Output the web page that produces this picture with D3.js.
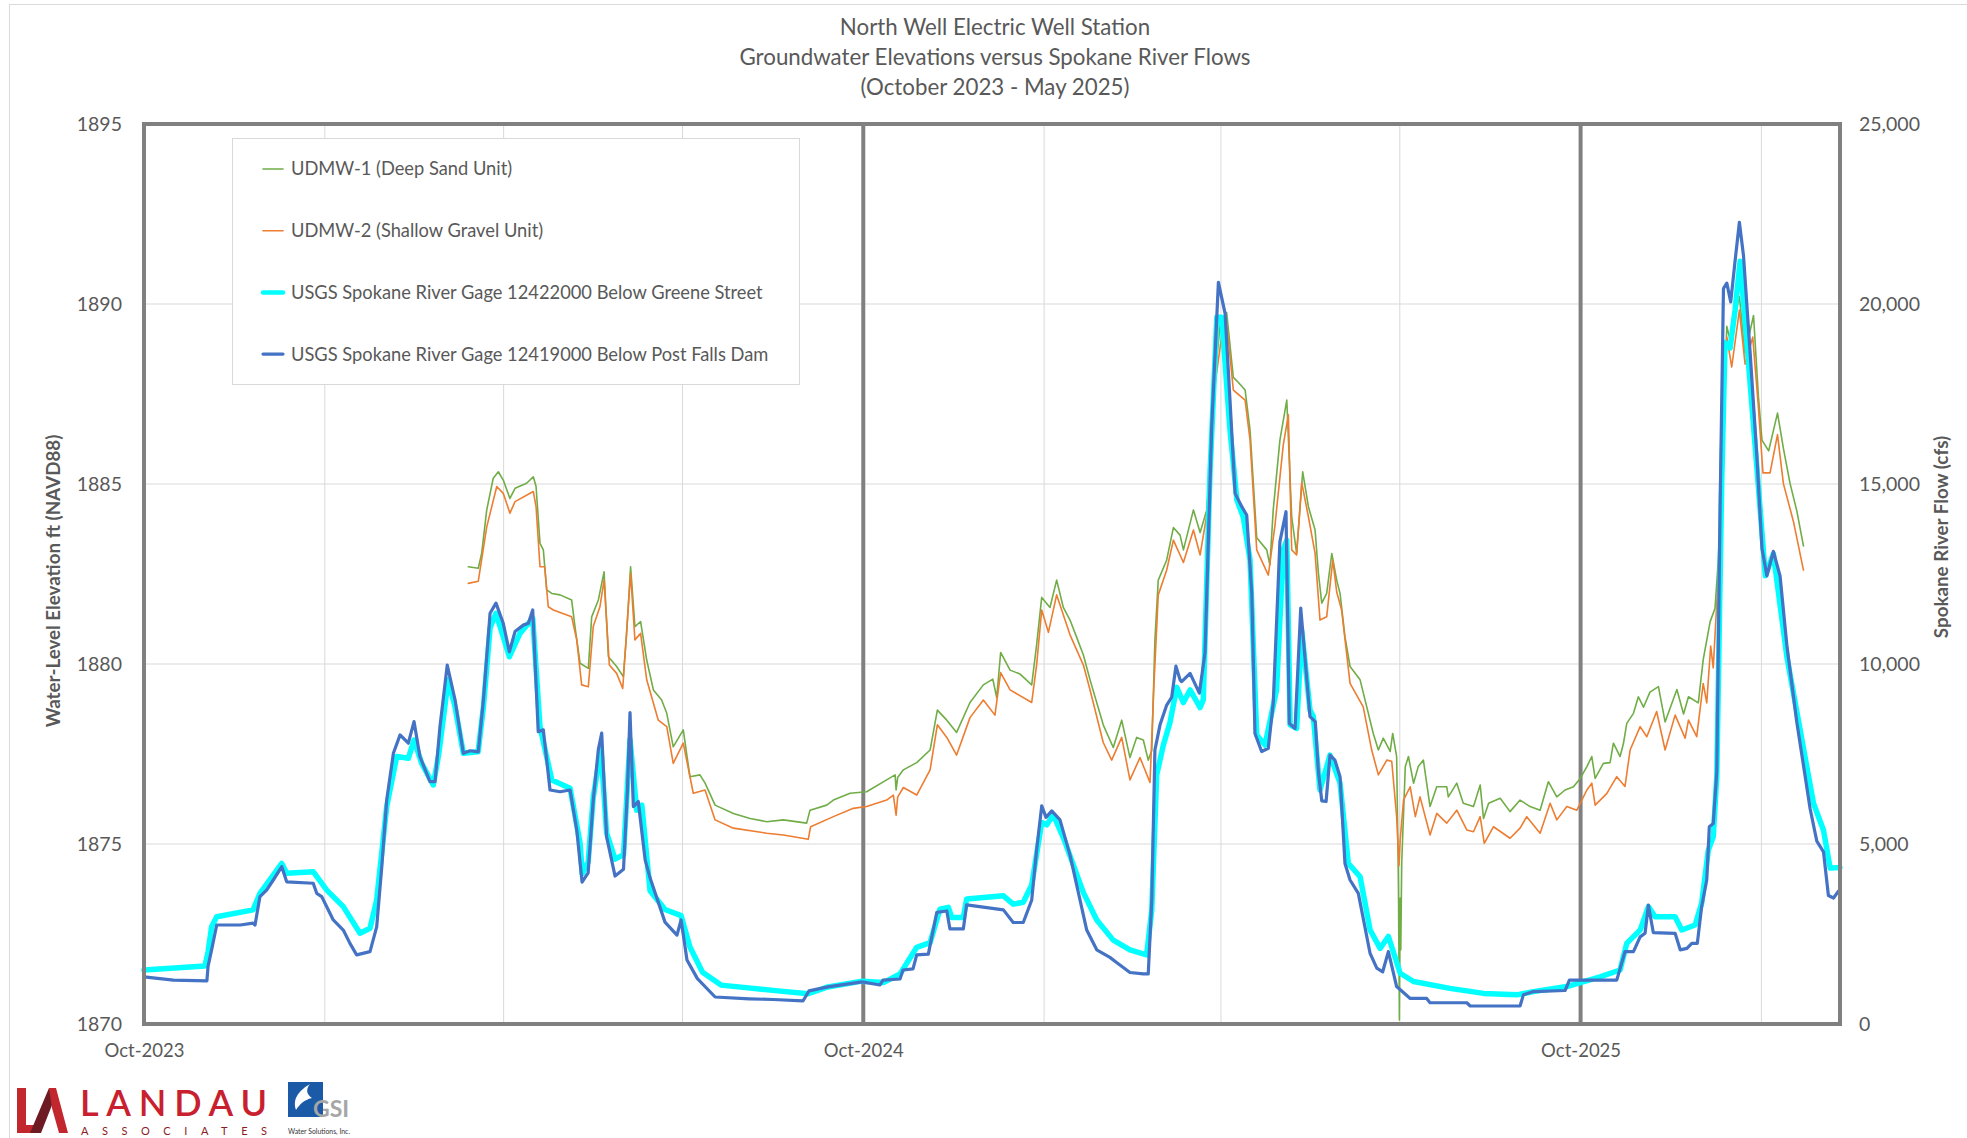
<!DOCTYPE html>
<html>
<head>
<meta charset="utf-8">
<script src="https://cdn.jsdelivr.net/npm/d3@7"></script>
<style>
  html, body { margin: 0; padding: 0; background: #fff; }
  svg text { font-family: Lato, "Open Sans", sans-serif; fill: #595959; }
</style>
</head>
<body>
<div id="chart"></div>
<script>
'use strict';

// [days after 1 Oct 2023, value]
const udmw1 = [[165,1882.70],[170.1,1882.66],[171.8,1883.07],[174.4,1884.28],[177.7,1885.16],[180.3,1885.34],[182.8,1885.11],[186.2,1884.60],[188.8,1884.88],[194.7,1885.02],[198.1,1885.20],[199.5,1884.93],[201.5,1883.35],[203.2,1883.17],[204.9,1882.06],[207.5,1881.96],[211.7,1881.92],[217.6,1881.78],[219.3,1881.04],[221.9,1880.02],[226.1,1879.88],[227.8,1881.31],[231.2,1881.78],[234.1,1882.56],[236.3,1880.20],[240.5,1879.93],[243.9,1879.65],[245.6,1880.85],[247.6,1882.70],[249.8,1881.04],[252.7,1881.18],[255.8,1880.11],[259.2,1879.28],[263.4,1879.00],[266,1878.63],[269.3,1877.70],[274.4,1878.17],[277.8,1876.87],[282.9,1876.92],[285.5,1876.69],[290.6,1876.08],[299.9,1875.85],[308.4,1875.71],[316.9,1875.62],[325.3,1875.67],[337.2,1875.58],[338.9,1875.94],[347.4,1876.08],[350.8,1876.22],[359.3,1876.41],[367.7,1876.45],[377.9,1876.78],[382.2,1876.92],[382.7,1876.50],[383.5,1876.85],[386.4,1877.06],[393.2,1877.26],[400,1877.61],[403.7,1878.72],[408.5,1878.44],[413.5,1878.10],[420.3,1878.93],[427.1,1879.42],[431.9,1879.58],[433.9,1879.07],[435.9,1880.32],[440.7,1879.83],[445.8,1879.72],[451.7,1879.42],[454.2,1880.53],[456.8,1881.85],[461,1881.57],[464.4,1882.33],[467.8,1881.57],[471.2,1881.22],[474.6,1880.74],[478,1880.25],[481.4,1879.56],[488.1,1878.31],[493.2,1877.68],[497.5,1878.44],[501.7,1877.40],[505.1,1877.96],[508.5,1877.89],[511,1877.33],[512.8,1877.60],[514.4,1880.67],[516.1,1882.33],[520.4,1882.89],[523.8,1883.79],[527.2,1883.58],[528.9,1883.17],[534,1884.28],[537.4,1883.65],[540.8,1884.28],[542.4,1885.67],[545,1888.03],[547.6,1889.42],[550.9,1889.76],[554.3,1887.96],[556.9,1887.82],[560.3,1887.61],[562.8,1886.50],[566.2,1883.51],[571.3,1883.17],[572.9,1882.75],[574.6,1884.28],[578,1886.22],[581.5,1887.33],[584,1884.09],[586.5,1883.07],[589.6,1885.34],[592.5,1884.37],[595.9,1883.72],[597.6,1882.52],[599.3,1881.69],[601.8,1881.96],[604.4,1883.07],[606.9,1882.33],[608.6,1881.96],[611.1,1880.76],[613.7,1879.93],[618.8,1879.56],[622.2,1878.81],[625.5,1878.07],[628.1,1877.61],[630.6,1877.94],[634.1,1877.57],[635.4,1878.07],[637.4,1877.43],[638.3,1873.91],[638.8,1870.11],[639.2,1873.5],[639.5,1872.06],[640,1874.5],[641.8,1877.15],[643.4,1877.43],[646,1876.69],[648.4,1877.15],[651,1877.33],[654.4,1876.04],[657.8,1876.59],[662.9,1876.59],[663.7,1876.31],[668,1876.69],[671.3,1876.13],[676.5,1876.04],[679.9,1876.64],[681.6,1875.71],[684.2,1876.13],[690.1,1876.27],[695.1,1875.90],[700.2,1876.22],[705.3,1876.04],[710.4,1875.94],[714.6,1876.73],[718.9,1876.31],[723.1,1876.50],[727.4,1876.59],[730.8,1876.82],[734.2,1877.15],[736.7,1877.43],[738.4,1876.82],[742.6,1877.24],[746,1877.26],[747.7,1877.80],[751.1,1877.43],[752.8,1877.79],[754.5,1878.35],[757.9,1878.63],[760.4,1879.09],[763,1878.80],[766.3,1879.22],[770.6,1879.37],[774,1878.39],[780,1879.29],[783.4,1878.61],[785.9,1879.09],[790.9,1878.92],[793.4,1880.12],[796.9,1881.17],[799.4,1881.55],[801.1,1882.91],[803.7,1886.5],[805.4,1889.38],[807.4,1888.93],[809.6,1889.68],[811.8,1890.21],[814.7,1888.63],[819,1889.68],[821.5,1887.42],[823.3,1886.22],[826.7,1885.92],[831.2,1886.97],[834.2,1885.99],[837.6,1885.01],[841,1884.26],[844.4,1883.28]];

const udmw2 = [[165,1882.24],[170.1,1882.30],[174.4,1883.81],[179.5,1884.93],[182.8,1884.74],[186.2,1884.19],[188.8,1884.51],[198.1,1884.79],[199.5,1884.37],[201.5,1882.70],[203.9,1882.70],[205.7,1881.59],[208.3,1881.50],[217.6,1881.31],[220.2,1880.67],[222.7,1879.42],[226.1,1879.37],[228.6,1881.04],[232,1881.59],[234.1,1882.33],[236.8,1879.97],[240.5,1879.74],[243.6,1879.32],[247.6,1882.52],[249.8,1880.67],[252.7,1880.85],[255.8,1879.56],[261.7,1878.44],[266,1878.26],[269.3,1877.24],[274.4,1877.80],[279.5,1876.41],[285.5,1876.50],[290.6,1875.67],[299.9,1875.44],[316.9,1875.30],[325.3,1875.25],[338,1875.13],[339.2,1875.48],[350.8,1875.76],[360.9,1875.99],[367.7,1876.04],[377.9,1876.22],[381.3,1876.36],[382.7,1875.80],[383.5,1876.30],[386.4,1876.57],[393.2,1876.36],[400,1877.06],[403.7,1878.31],[408.5,1877.96],[413.5,1877.47],[420.3,1878.51],[427.1,1879.00],[433,1878.58],[435.9,1879.76],[440.7,1879.28],[451.7,1878.93],[454.2,1879.97],[456.8,1881.50],[460.2,1880.88],[464.4,1881.92],[471.2,1880.81],[478,1879.97],[481.4,1879.28],[488.1,1877.82],[492.4,1877.33],[497.5,1877.96],[501.7,1876.78],[506.8,1877.40],[511.9,1876.71],[513.9,1879.42],[516.1,1881.92],[520.4,1882.61],[523.8,1883.44],[528.9,1882.82],[534,1883.72],[537.4,1883.03],[540.8,1884.14],[545,1887.75],[548.4,1889.14],[550.9,1889.49],[554.3,1887.61],[560.3,1887.33],[562.8,1886.22],[566.2,1883.17],[572.1,1882.47],[575.5,1883.86],[579.7,1886.08],[582.3,1886.92],[584,1883.17],[586.5,1883.03],[589.1,1885.04],[592.5,1884.09],[595.9,1883.07],[598.4,1881.22],[601.8,1881.31],[604.9,1882.89],[606.9,1882.00],[609.4,1881.50],[613.7,1879.46],[620.4,1878.81],[624.7,1877.61],[628.1,1876.92],[632.4,1877.33],[634.9,1877.30],[637.4,1875.76],[638.6,1874.40],[639.2,1875.11],[640.9,1876.22],[644.3,1876.59],[646.9,1875.76],[649.3,1876.31],[654.4,1875.25],[657.8,1875.85],[662.9,1875.58],[668,1875.94],[673.1,1875.39],[676.5,1875.34],[679.9,1875.76],[682,1875.02],[686.7,1875.48],[695.1,1875.16],[700.2,1875.44],[703.6,1875.76],[710.4,1875.30],[715.5,1876.13],[718.9,1875.67],[724,1876.04],[729.1,1875.94],[734.2,1876.50],[736.7,1876.69],[738.4,1876.08],[744.3,1876.40],[749.4,1876.87],[753.6,1876.60],[756.2,1877.61],[761.3,1878.26],[764.7,1877.98],[769.7,1878.68],[774,1877.61],[779.1,1878.58],[784.2,1877.94],[785.9,1878.44],[790.1,1877.98],[793.4,1879.46],[795.2,1878.92],[797.2,1880.50],[798.5,1879.89],[801.1,1882.5],[803.7,1886.5],[805.4,1889.08],[807.9,1888.25],[811.8,1889.83],[814.7,1888.33],[818.6,1889.08],[821.5,1887.12],[823.8,1885.31],[827.4,1885.31],[831.2,1886.37],[834.2,1885.01],[839.3,1883.96],[844.4,1882.61]];

// cfs
const greeneStreet = [[0,1500],[31,1610],[32.6,2000],[34.4,2700],[37,2980],[55.5,3170],[59,3630],[70.1,4460],[72.6,4190],[86.1,4230],[93,3720],[101.4,3260],[109.9,2520],[115,2660],[118.4,3440],[123.5,6040],[128.6,7430],[134.5,7380],[137.4,7890],[141.3,7240],[147.2,6640],[150,7500],[154.8,9560],[158.3,8800],[162.5,7520],[170,7560],[172.7,8800],[176.1,11000],[179.1,11410],[185.9,10200],[191.3,10850],[197.8,11270],[201.5,8260],[207.5,6780],[216.8,6550],[221.9,5020],[223,4170],[226,4500],[228.6,6300],[232.5,7640],[235.4,5300],[239.7,4580],[244,4700],[247.3,7900],[250.7,5940],[253.3,6080],[257.5,3700],[265.1,3180],[273.3,3010],[277.8,2140],[284.2,1440],[293.6,1080],[322.6,920],[338,840],[348,1030],[365.4,1190],[376.2,1150],[384.7,1390],[393.2,2130],[400,2260],[405,3190],[409.3,3240],[411,2960],[416.9,2960],[418.6,3470],[437.3,3560],[442.3,3330],[447.4,3380],[451.7,3860],[456.8,5600],[459.3,5530],[462.7,5810],[467.8,5180],[478,3650],[484.8,2890],[493.2,2330],[501.7,2060],[510.2,1920],[512.8,3170],[515.3,6920],[518.7,7750],[522.1,8380],[525.5,9350],[528.9,8930],[532.3,9280],[537.4,8790],[539,9000],[542.4,15250],[545.9,19630],[548.4,19630],[552.6,16500],[556.1,14560],[559.4,14070],[562.8,12890],[566.2,8030],[570.4,7750],[576.3,9280],[579.7,13170],[581.5,13440],[583.2,8310],[586.5,8210],[589.1,10940],[593.3,8720],[595,8540],[598.4,6500],[603.5,7470],[608.6,6690],[612.8,4460],[618.8,4090],[623.9,2610],[629,2100],[633.2,2430],[639.2,1410],[646,1180],[664.5,990],[681.6,850],[698.5,810],[707,900],[724,1040],[740.9,1310],[751.1,1500],[754.5,2240],[761.3,2610],[765.5,3260],[768.9,2980],[779.1,2980],[782.5,2610],[789.3,2750],[792.6,3350],[796,4830],[798.5,5200],[800.3,6880],[802.8,15010],[804.5,18930],[807.1,18780],[809.6,19830],[812.2,21190],[815.6,18930],[820.7,15460],[825,12450],[829.1,13060],[836,10190],[849.5,6130],[854.6,5380],[858,4330],[863,4350]];

const postFalls = [[0,1310],[15,1220],[32,1200],[32.6,1600],[34.4,2060],[37,2750],[49,2750],[55.5,2800],[56.5,2750],[59,3540],[62.4,3720],[65.8,4000],[70.1,4370],[72.6,3950],[86.1,3910],[87.9,3630],[90.4,3540],[96.3,2890],[101.4,2610],[104.8,2240],[108.2,1920],[115,2010],[118.4,2700],[121,4370],[123.5,6220],[126.9,7520],[130.3,8030],[134.5,7800],[137.4,8400],[140.4,7430],[145.5,6730],[148.1,6730],[150.6,8260],[154.3,9970],[158.3,9000],[162.5,7520],[165.9,7590],[170.1,7560],[172.7,9000],[176.1,11410],[179.1,11690],[182.8,11130],[185.9,10340],[188.8,10900],[193,11080],[195.6,11130],[197.8,11500],[200.6,8120],[203.2,8170],[206.6,6500],[211.7,6450],[216.8,6500],[220.2,5390],[222.9,3940],[226,4200],[228.6,6220],[231.2,7630],[232.9,8080],[235.4,5200],[239.7,4110],[244,4300],[246,6500],[247.3,8650],[249,6040],[251.5,6180],[255,4560],[257.5,4060],[265.1,2830],[271.2,2470],[273.3,2890],[276.3,1780],[281.6,1260],[290.6,750],[308,700],[320,680],[335.3,640],[338.4,920],[348,1030],[365.4,1170],[374.5,1083],[376,1220],[384.7,1250],[386.2,1500],[391.3,1530],[393.2,1920],[399.1,1940],[403.4,3100],[408.5,3140],[410.1,2640],[416.9,2640],[418.6,3310],[437.3,3170],[442.3,2820],[447.4,2820],[451.7,3440],[454.2,4830],[456.8,6060],[459,5740],[461.9,5920],[466.1,5670],[471.2,4690],[479.7,2610],[484.8,2060],[491.5,1850],[494.9,1710],[501.7,1430],[508.5,1390],[511,1390],[512.8,3440],[514.4,7610],[517,8310],[520.4,8860],[522.9,9070],[525.1,9940],[527.2,9560],[528,9510],[532.3,9740],[537,9190],[539.9,10310],[543.3,16600],[546.7,20600],[550.1,19740],[552.6,17330],[555.2,14740],[558.6,14370],[561.1,14140],[563.7,11960],[565.3,8070],[568.7,7570],[572.1,7660],[574.6,8910],[578,13400],[581.1,14230],[582.8,8350],[585.7,8210],[588.6,11550],[593.3,8540],[596,8400],[597.6,7000],[599.3,6200],[601.5,6180],[603.5,7470],[606,7330],[608.6,6870],[611.1,4460],[613.7,4000],[617.9,3630],[623.9,1960],[627.3,1550],[630.3,1450],[633.2,2010],[637.4,1040],[644.3,710],[652.7,710],[654.4,590],[673.1,590],[674.8,500],[700.2,500],[701.9,810],[707,900],[723.1,930],[725.3,1220],[749.4,1220],[753.6,2010],[757.9,2010],[761.3,2420],[763.8,2520],[765.5,3300],[768,2540],[779.1,2520],[781.7,2060],[785.1,2100],[787.6,2240],[790.4,2240],[792.6,3260],[795.2,4000],[796.5,5480],[798.5,5570],[800.3,7000],[802,14410],[803.7,20430],[805.4,20580],[807.4,20060],[809.6,21190],[811.8,22270],[813.9,21340],[817.3,18630],[820.7,15770],[823.3,13210],[825.8,12450],[829.1,13130],[832.5,12450],[836,10500],[841,8390],[847.8,5980],[851.2,5080],[854.6,4780],[857.1,3570],[859.7,3500],[862.2,3690],[863,3690]];

const seriesNames = ['UDMW-1 (Deep Sand Unit)', 'UDMW-2 (Shallow Gravel Unit)',
  'USGS Spokane River Gage 12422000 Below Greene Street', 'USGS Spokane River Gage 12419000 Below Post Falls Dam'];
const elevTicks = [1870, 1875, 1880, 1885, 1890, 1895];
const flowTicks = [0, 5000, 10000, 15000, 20000, 25000];
const xTickLabels = ['Oct-2023', 'Oct-2024', 'Oct-2025'];
const titleLines = ['North Well Electric Well Station', 'Groundwater Elevations versus Spokane River Flows', '(October 2023 - May 2025)'];

var W = 1967, H = 1138,
    padl = 144, padr = 1840, padt = 124, padb = 1024,
    start = new Date(2023, 9, 1),
    toDate = (d) => new Date(start.getTime() + d * 864e5),
    x = d3.scaleTime().domain([start, toDate(863)]).range([padl, padr]),
    yL = d3.scaleLinear().domain([1870, 1895]).range([padb, padt]),
    yR = d3.scaleLinear().domain([0, 25000]).range([padb, padt]),
    parseTick = d3.timeParse('%b-%Y'),
    xTicks = xTickLabels.map(parseTick);

var svg = d3.select('#chart').append('svg')
    .attr('width', W)
    .attr('height', H);

svg.append('rect').attr('width', W).attr('height', H).attr('fill', '#fff');
// chart area outline
svg.append('rect')
  .attr('x', 9.5).attr('y', 4.5).attr('width', W).attr('height', H)
  .attr('fill', 'none').attr('stroke', '#d9d9d9');

// title
svg.append('g').selectAll('text')
  .data(titleLines)
  .enter().append('text')
  .attr('x', 995)
  .attr('y', (d, i) => 35 + i * 30)
  .attr('text-anchor', 'middle')
  .style('font-size', '22.3px')
  .text((d) => d);

// gridlines
svg.append('g').selectAll('line')
  .data(elevTicks.slice(1, -1))
  .enter().append('line')
  .attr('x1', padl).attr('x2', padr)
  .attr('y1', (d) => yL(d)).attr('y2', (d) => yL(d))
  .attr('stroke', '#d9d9d9');

svg.append('g').selectAll('line')
  .data(x.ticks(d3.timeMonth.every(3)))
  .enter().append('line')
  .attr('x1', (d) => x(d)).attr('x2', (d) => x(d))
  .attr('y1', padt).attr('y2', padb)
  .attr('stroke', '#d9d9d9');

// year separators
svg.append('g').selectAll('line')
  .data(xTicks.slice(1))
  .enter().append('line')
  .attr('x1', (d) => x(d)).attr('x2', (d) => x(d))
  .attr('y1', padt).attr('y2', padb)
  .attr('stroke', '#808080').attr('stroke-width', 4);

// series
var lineL = d3.line().x((d) => x(toDate(d[0]))).y((d) => yL(d[1])),
    lineR = d3.line().x((d) => x(toDate(d[0]))).y((d) => yR(d[1]));

var series = [
  { data: udmw1, line: lineL, color: '#70ad47', width: 1.6 },
  { data: udmw2, line: lineL, color: '#ed7d31', width: 1.6 },
  { data: greeneStreet, line: lineR, color: '#00ffff', width: 5.5 },
  { data: postFalls, line: lineR, color: '#4472c4', width: 3.2 }
];

svg.append('g').selectAll('path')
  .data(series)
  .enter().append('path')
  .attr('d', (s) => s.line(s.data))
  .attr('fill', 'none')
  .attr('stroke', (s) => s.color)
  .attr('stroke-width', (s) => s.width)
  .attr('stroke-linejoin', 'round')
  .attr('stroke-linecap', 'round');

// plot border
svg.append('rect')
  .attr('x', padl).attr('y', padt)
  .attr('width', padr - padl).attr('height', padb - padt)
  .attr('fill', 'none').attr('stroke', '#808080').attr('stroke-width', 4);

// axes
var axL = svg.append('g')
  .attr('transform', 'translate(' + padl + ',0)')
  .call(d3.axisLeft(yL).tickValues(elevTicks).tickSize(0).tickPadding(22).tickFormat(d3.format('d')));
var axR = svg.append('g')
  .attr('transform', 'translate(' + padr + ',0)')
  .call(d3.axisRight(yR).tickValues(flowTicks).tickSize(0).tickPadding(19).tickFormat(d3.format(',')));
var axB = svg.append('g')
  .attr('transform', 'translate(0,' + padb + ')')
  .call(d3.axisBottom(x).tickValues(xTicks).tickSize(0).tickPadding(20).tickFormat(d3.timeFormat('%b-%Y')));

[axL, axR].forEach((g) => {
  g.select('.domain').remove();
  g.selectAll('text').style('font-size', '19.5px');
});
axB.select('.domain').remove();
axB.selectAll('text').style('font-size', '18.5px');

// axis titles
svg.append('text')
  .attr('transform', 'translate(60,581) rotate(-90)')
  .attr('text-anchor', 'middle')
  .style('font-size', '18.8px').style('font-weight', 'bold')
  .text('Water-Level Elevation ft (NAVD88)');

svg.append('text')
  .attr('transform', 'translate(1948,537) rotate(-90)')
  .attr('text-anchor', 'middle')
  .style('font-size', '18.8px').style('font-weight', 'bold')
  .text('Spokane River Flow (cfs)');

// legend
var legend = svg.append('g');
legend.append('rect')
  .attr('x', 232.5).attr('y', 138.5).attr('width', 567).attr('height', 246)
  .attr('fill', '#fff').attr('stroke', '#d9d9d9');

var items = legend.selectAll('g.item')
  .data(series)
  .enter().append('g')
  .attr('class', 'item')
  .attr('transform', (d, i) => 'translate(0,' + (169 + i * 61.7) + ')');

items.append('line')
  .attr('x1', 263).attr('x2', 283)
  .attr('stroke', (s) => s.color)
  .attr('stroke-width', (s) => Math.min(s.width, 4.5))
  .attr('stroke-linecap', 'round');

items.append('text')
  .attr('x', 291).attr('dy', '0.35em')
  .style('font-size', '18.3px')
  .text((d, i) => seriesNames[i]);

// logos
var logo = svg.append('g');
logo.append('path')
  .attr('d', 'M17,1088 L26,1088 L26,1125 L38,1125 L35,1133 L17,1133 Z')
  .attr('fill', '#c1272d');
logo.append('path')
  .attr('d', 'M30,1133 L49,1088 L54,1100 L41,1133 Z')
  .attr('fill', '#6e1a22');
logo.append('path')
  .attr('d', 'M49,1088 L56,1088 L68,1133 L59,1133 L52,1108 Z')
  .attr('fill', '#c1272d');
logo.append('text')
  .attr('x', 80).attr('y', 1116)
  .attr('textLength', 187).attr('lengthAdjust', 'spacing')
  .style('font-size', '36px').style('font-weight', '600').style('fill', '#c8202f')
  .text('LANDAU');
logo.append('text')
  .attr('x', 81).attr('y', 1135)
  .attr('textLength', 186).attr('lengthAdjust', 'spacing')
  .style('font-size', '11px').style('fill', '#8b1a24')
  .text('ASSOCIATES');

logo.append('rect')
  .attr('x', 288).attr('y', 1082).attr('width', 35).attr('height', 35)
  .attr('fill', '#1b5aa6');
logo.append('path')
  .attr('d', 'M310,1084 C300,1090 292,1098 296,1110 C300,1104 304,1100 312,1098 C306,1094 306,1089 310,1084 Z')
  .attr('fill', '#fff');
logo.append('text')
  .attr('x', 313).attr('y', 1117)
  .style('font-size', '23px').style('font-weight', 'bold').style('fill', '#a6a6a6')
  .text('GSI');
logo.append('text')
  .attr('x', 288).attr('y', 1134)
  .attr('textLength', 62).attr('lengthAdjust', 'spacingAndGlyphs')
  .style('font-size', '7px').style('fill', '#333')
  .text('Water Solutions, Inc.');
</script>
</body>
</html>
